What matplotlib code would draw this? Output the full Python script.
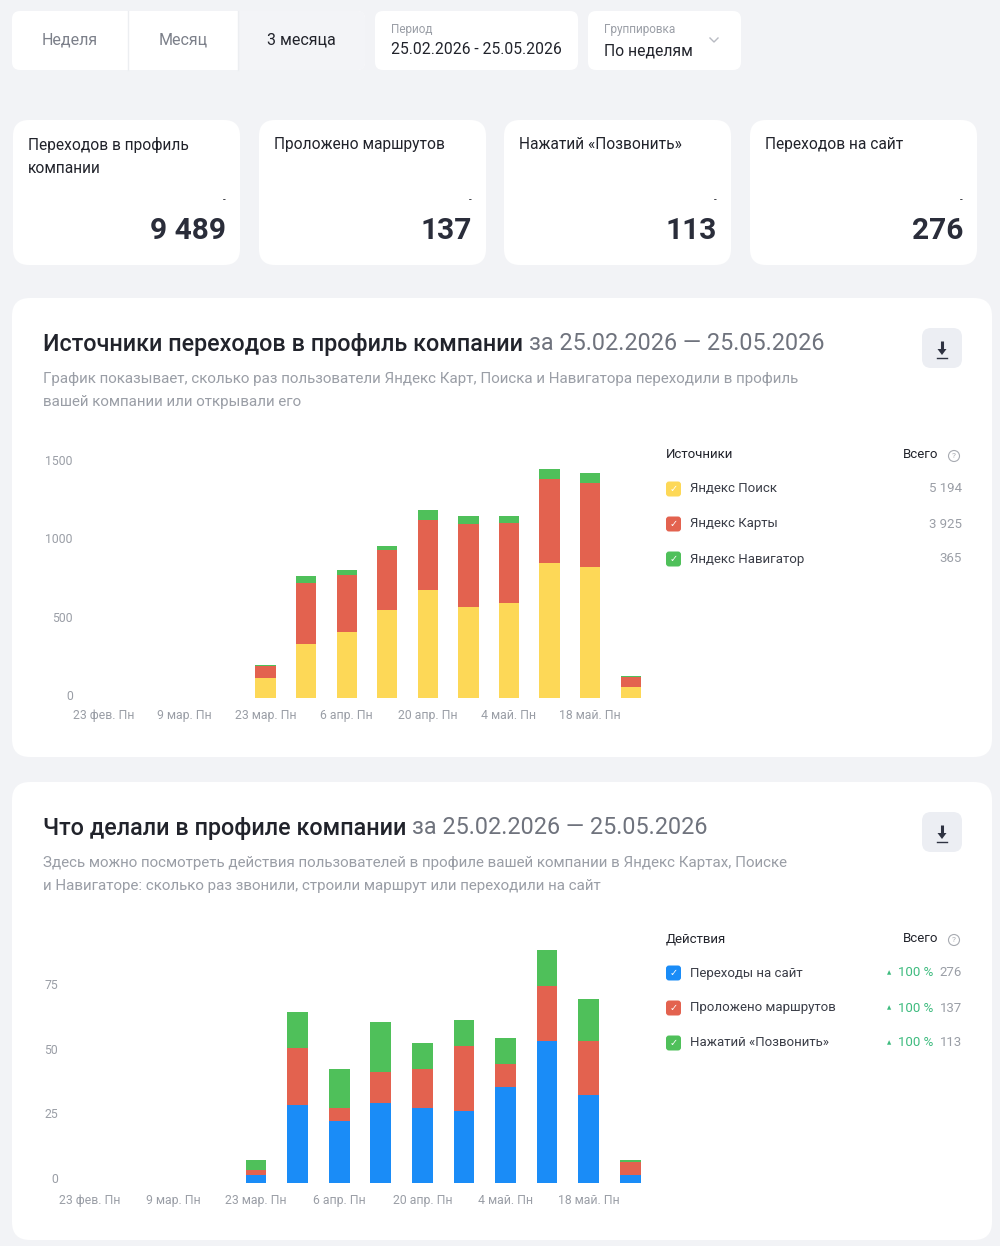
import numpy as np
import matplotlib
matplotlib.use("Agg")
import matplotlib.pyplot as plt
from matplotlib.patches import FancyBboxPatch, Circle, Rectangle, Polygon
from matplotlib.transforms import ScaledTranslation

plt.rcParams['font.family'] = ['Roboto', 'DejaVu Sans']

# ---- data ----
weeks = ['23 фев. Пн', '2 мар. Пн', '9 мар. Пн', '16 мар. Пн', '23 мар. Пн', '30 мар. Пн',
         '6 апр. Пн', '13 апр. Пн', '20 апр. Пн', '27 апр. Пн', '4 май. Пн', '11 май. Пн',
         '18 май. Пн', '25 май. Пн']

src_names = ['Яндекс Поиск', 'Яндекс Карты', 'Яндекс Навигатор']
src_totals = ['5 194', '3 925', '365']
search = [0, 0, 0, 0, 126, 347, 422, 559, 689, 584, 605, 863, 836, 69]
maps = [0, 0, 0, 0, 80, 390, 366, 388, 445, 529, 515, 534, 536, 68]
navi = [0, 0, 0, 0, 6, 42, 29, 24, 63, 47, 40, 63, 63, 4]

act_names = ['Переходы на сайт', 'Проложено маршрутов', 'Нажатий «Позвонить»']
act_totals = ['276', '137', '113']
site = [0, 0, 0, 0, 3, 30, 24, 31, 29, 28, 37, 55, 34, 3]
routes = [0, 0, 0, 0, 2, 22, 5, 12, 15, 25, 9, 21, 21, 5]
calls = [0, 0, 0, 0, 4, 14, 15, 19, 10, 10, 10, 14, 16, 1]

kpi_titles = ['Переходов в профиль\nкомпании', 'Проложено маршрутов',
              'Нажатий «Позвонить»', 'Переходов на сайт']
kpi_values = ['9 489', '137', '113', '276']

YELLOW, RED, GREEN, BLUE = '#fdd857', '#e3624f', '#4fc05a', '#1a8cf7'
DARK, GREY, LGREY = '#21232b', '#7c808a', '#9a9ea6'
BG = '#f2f3f6'

W, H = 1000, 1246
fig = plt.figure(figsize=(W / 100, H / 100), dpi=100, facecolor=BG)
bg = fig.add_axes([0, 0, 1, 1])
bg.set_xlim(0, W)
bg.set_ylim(H, 0)
bg.axis('off')


def card(x0, y0, x1, y1, r=14, fc='white', ec='none'):
    bg.add_patch(FancyBboxPatch((x0, y0), x1 - x0, y1 - y0,
                                boxstyle=f'round,pad=0,rounding_size={r}',
                                fc=fc, ec=ec, lw=0.8))


def px_axes(x0, y0, x1, y1):
    return fig.add_axes([x0 / W, 1 - y1 / H, (x1 - x0) / W, (y1 - y0) / H])


# ---- top controls ----
card(12, 11, 365, 70, r=8)
card(238, 11, 365, 70, r=8, fc='#f3f4f7')
bg.add_patch(Rectangle((238, 11), 10, 59, fc='#f3f4f7', ec='none'))
bg.plot([128, 128], [11, 70], color='#eceef1', lw=1)
bg.plot([238, 238], [11, 70], color='#eceef1', lw=1)
bg.text(70, 40, 'Неделя', ha='center', va='center', fontsize=11.5, color=GREY)
bg.text(183, 40, 'Месяц', ha='center', va='center', fontsize=11.5, color=GREY)
bg.text(301, 40, '3 месяца', ha='center', va='center', fontsize=11.5, color=DARK)

card(375, 11, 578, 70, r=8)
bg.text(391, 29, 'Период', ha='left', va='center', fontsize=8.5, color=LGREY)
bg.text(391, 49, '25.02.2026 - 25.05.2026', ha='left', va='center', fontsize=11.3, color=DARK)

card(588, 11, 741, 70, r=8)
bg.text(604, 30, 'Группировка', ha='left', va='center', fontsize=8.5, color=LGREY)
bg.text(604, 51, 'По неделям', ha='left', va='center', fontsize=11.3, color=DARK)
bg.plot([710, 714, 718], [38, 42, 38], color='#b8bbc2', lw=1)

# ---- KPI cards ----
kpi_x = [13, 259, 504, 750]
for x0, title, val in zip(kpi_x, kpi_titles, kpi_values):
    card(x0, 120, x0 + 227, 265, r=16)
    bg.text(x0 + 15, 137, title, ha='left', va='top', fontsize=11.2, color=DARK,
            linespacing=1.7)
    bg.text(x0 + 211, 200, '-', ha='center', va='center', fontsize=7, color=DARK)
    bg.text(x0 + 213, 231, val, ha='right', va='center', fontsize=21.5,
            fontweight='bold', color='#2a2d3a')


def section(y0, y1, title, desc, legend_title, names, totals, colors, deltas):
    card(12, y0, 992, y1, r=18)
    t = bg.text(43, y0 + 46, title, ha='left', va='center', fontsize=16.8,
                fontweight='medium', color=DARK)
    fig.canvas.draw()
    bb = t.get_window_extent()
    x_end = bb.x1 / fig.dpi * 100
    bg.text(x_end + 6, y0 + 46, 'за 25.02.2026 — 25.05.2026', ha='left', va='center',
            fontsize=16.8, color='#6f737d')
    bg.text(43, y0 + 74, desc, ha='left', va='top', fontsize=10.9, color=LGREY,
            linespacing=1.78)
    # download button
    card(922, y0 + 30, 962, y0 + 70, r=9, fc='#eceef3')
    bg.plot([942, 942], [y0 + 43, y0 + 52], color='#2f3342', lw=2.2,
            solid_capstyle='butt')
    bg.add_patch(Polygon([[937.5, y0 + 51], [946.5, y0 + 51], [942, y0 + 57]],
                         closed=True, fc='#2f3342', ec='none'))
    bg.plot([937, 947], [y0 + 59.5, y0 + 59.5], color='#2f3342', lw=1)
    # legend
    ly = y0 + 157
    bg.text(666, ly, legend_title, ha='left', va='center', fontsize=9.5, color=DARK)
    bg.text(938, ly, 'Всего', ha='right', va='center', fontsize=9.5, color=DARK)
    bg.add_patch(Circle((954, ly + 1), 5.5, fc='none', ec='#a8abb2', lw=0.8))
    bg.text(954, ly + 1, '?', ha='center', va='center', fontsize=6, color='#a8abb2')
    for i, (n, tot, c) in enumerate(zip(names, totals, colors)):
        yy = ly + 34 + 35 * i
        card(666, yy - 7.5, 681, yy + 7.5, r=3, fc=c)
        bg.text(673.5, yy, '✓', ha='center', va='center', fontsize=7, color='white',
                family='DejaVu Sans', fontweight='bold')
        bg.text(690, yy, n, ha='left', va='center', fontsize=9.5, color='#3a3d47')
        bg.text(962, yy, tot, ha='right', va='center', fontsize=9.5, color=LGREY)
        if deltas:
            bg.text(933, yy, '100 %', ha='right', va='center', fontsize=9.5,
                    color='#3dbb7e')
            bg.text(889, yy, '▲', ha='center', va='center', fontsize=4,
                    color='#3dbb7e', family='DejaVu Sans')


def stacked(ax, series, colors, ymax, yticks, label_x, lift):
    x = np.arange(len(weeks))
    bottom = np.zeros(len(weeks))
    for vals, c in zip(series, colors):
        ax.bar(x, vals, bottom=bottom, width=0.5, color=c, linewidth=0)
        bottom += np.array(vals)
    ax.set_xlim(-0.5, len(weeks) - 0.5)
    ax.set_ylim(0, ymax)
    ax.set_xticks(x[::2])
    ax.set_xticklabels(weeks[::2])
    ax.set_yticks(yticks)
    ax.set_yticklabels([])
    ax.tick_params(length=0, labelsize=8.8, labelcolor='#9a9ea6', pad=8)
    # y labels sit a few pixels above their value
    trans = ax.get_yaxis_transform() + ScaledTranslation(0, lift, fig.dpi_scale_trans)
    for v in yticks:
        ax.text(label_x, v, str(v), transform=trans, ha='right', va='center',
                fontsize=8.8, color='#9a9ea6', clip_on=False)
    for s in ax.spines.values():
        s.set_visible(False)
    ax.patch.set_alpha(0)


section(298, 757, 'Источники переходов в профиль компании',
        'График показывает, сколько раз пользователи Яндекс Карт, Поиска и Навигатора переходили в профиль\nвашей компании или открывали его',
        'Источники', src_names, src_totals, [YELLOW, RED, GREEN], False)
ax1 = px_axes(83, 463, 651, 698)
stacked(ax1, [search, maps, navi], [YELLOW, RED, GREEN], 1500, [0, 500, 1000, 1500],
        -10 / 568, 0.015)

section(782, 1240, 'Что делали в профиле компании',
        'Здесь можно посмотреть действия пользователей в профиле вашей компании в Яндекс Картах, Поиске\nи Навигаторе: сколько раз звонили, строили маршрут или переходили на сайт',
        'Действия', act_names, act_totals, [BLUE, RED, GREEN], True)
ax2 = px_axes(69, 950, 651, 1183)
stacked(ax2, [site, routes, calls], [BLUE, RED, GREEN], 90, [0, 25, 50, 75],
        -11 / 582, 0.035)

fig.savefig('out.png', dpi=100, facecolor=BG)
